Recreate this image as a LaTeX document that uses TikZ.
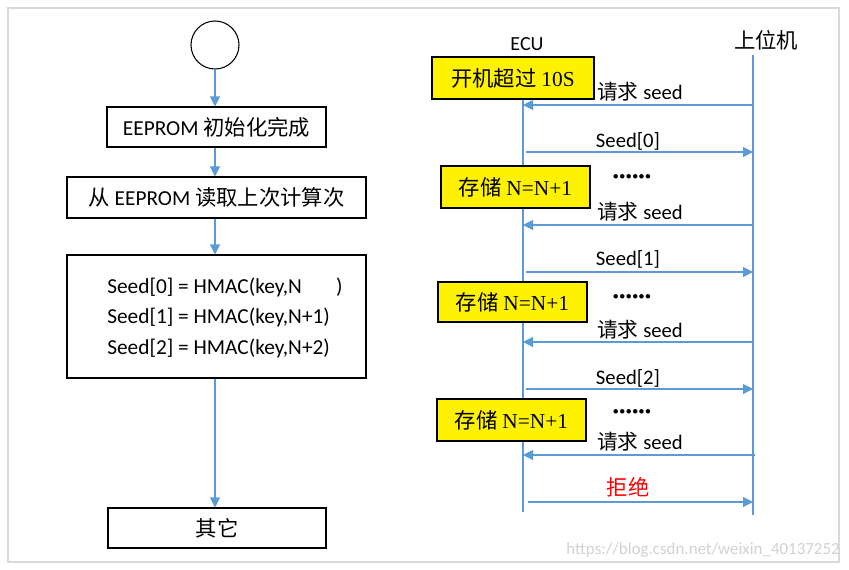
\documentclass[tikz,border=0pt]{standalone}
\usepackage{fontspec}
\setmainfont{Carlito}
\newfontfamily\cjk{Noto Sans CJK SC}
\newfontfamily\tnr{Liberation Serif}
\usetikzlibrary{arrows.meta}
\definecolor{lblue}{RGB}{91,155,213}
\definecolor{frame}{RGB}{217,217,217}
\begin{document}
\begin{tikzpicture}[x=0.75pt,y=-0.75pt,
  box/.style={draw=black,line width=0.8pt,minimum width=#1,minimum height=40*0.75pt,inner sep=0pt,font=\fontsize{16}{18}\selectfont},
  ybox/.style={draw=black,fill=yellow,line width=0.8pt,inner sep=0pt,font=\fontsize{16}{18}\selectfont},
  flow/.style={draw=lblue,line width=0.8pt,-{Triangle[width=7.5pt,length=7.5pt]}},
  msg/.style={draw=lblue,line width=0.8pt,-{Triangle[width=7.5pt,length=7.5pt]}},
  life/.style={draw=lblue,line width=0.8pt},
  lbl/.style={inner sep=0pt,font=\fontsize{15.5}{18}\selectfont},
  dots/.style={inner sep=0pt,font=\bfseries\fontsize{18}{20}\selectfont}]
\useasboundingbox (0,0) rectangle (849,569);
\draw[frame,line width=1.5pt] (8,8) rectangle (839,562);
% left flowchart
\node[draw=black,line width=0.8pt,circle,minimum size=48*0.75pt,inner sep=0pt] (start) at (215,45) {};
\node[box=219*0.75pt] (b1) at (216.5,127) {EEPROM {\cjk 初始化完成}};
\node[box=299*0.75pt,minimum height=41*0.75pt] (b2) at (216.5,197.5) {{\cjk 从} EEPROM {\cjk 读取上次计算次}};
\node[draw=black,line width=0.8pt,minimum width=299*0.75pt,minimum height=123*0.75pt,inner sep=0pt] (b3) at (216.5,316.5) {};
\node[lbl,anchor=west,font=\fontsize{16}{18}\selectfont] (s0) at (107,287) {Seed[0] = HMAC(key,N\hspace{1.6em})};
\node[lbl,anchor=west,font=\fontsize{16}{18}\selectfont] (s1) at (107,317) {Seed[1] = HMAC(key,N+1)};
\node[lbl,anchor=west,font=\fontsize{16}{18}\selectfont] (s2) at (107,348) {Seed[2] = HMAC(key,N+2)};
\node[box=218*0.75pt] (b4) at (217,528) {\cjk 其它};
\draw[flow] (start.south) -- (start.south |- b1.north);
\draw[flow] (b1.south -| start) -- (start |- b2.north);
\draw[flow] (b2.south -| start) -- (start |- b3.north);
\draw[flow] (b3.south -| start) -- (start |- b4.north);
% right sequence diagram
\node[lbl,font=\fontsize{15}{17}\selectfont] (ecu) at (527,44) {ECU};
\node[lbl,font=\cjk\fontsize{16}{18}\selectfont] (host) at (766,40) {上位机};
\coordinate (e0) at (523,57);
\coordinate (e1) at (523,512);
\coordinate (h0) at (753,55);
\coordinate (h1) at (753,515);
\draw[life] (e0) -- (e1);
\draw[life] (h0) -- (h1);
\node[ybox,minimum width=162*0.75pt,minimum height=42*0.75pt] (y0) at (513,78) {{\cjk 开机超过} {\tnr 10S}};
\node[ybox,minimum width=149*0.75pt,minimum height=42*0.75pt] (y1) at (515.5,187) {{\cjk 存储} {\tnr N=N+1}};
\node[ybox,minimum width=149*0.75pt,minimum height=40*0.75pt] (y2) at (512.5,302) {{\cjk 存储} {\tnr N=N+1}};
\node[ybox,minimum width=149*0.75pt,minimum height=42*0.75pt] (y3) at (511.5,420) {{\cjk 存储} {\tnr N=N+1}};
% messages
\coordinate (r0h) at (753,105); \coordinate (r0e) at (523,105);
\coordinate (s0e) at (526,152); \coordinate (s0h) at (753,152);
\coordinate (r1h) at (753,225); \coordinate (r1e) at (523,225);
\coordinate (s1e) at (526,272); \coordinate (s1h) at (753,272);
\coordinate (r2h) at (753,342); \coordinate (r2e) at (523,342);
\coordinate (s2e) at (526,389); \coordinate (s2h) at (753,389);
\coordinate (r3h) at (755,455); \coordinate (r3e) at (523,455);
\coordinate (rje) at (528,502); \coordinate (rjh) at (753,502);
\draw[msg] (r0h) -- (r0e);
\draw[msg] (s0e) -- (s0h);
\draw[msg] (r1h) -- (r1e);
\draw[msg] (s1e) -- (s1h);
\draw[msg] (r2h) -- (r2e);
\draw[msg] (s2e) -- (s2h);
\draw[msg] (r3h) -- (r3e);
\draw[msg] (rje) -- (rjh);
\node[lbl] (l0) at (640,92) {{\cjk 请求} seed};
\node[lbl] (l1) at (628,141) {Seed[0]};
\node[dots] (d1) at (632,179) {······};
\node[lbl] (l2) at (640,212) {{\cjk 请求} seed};
\node[lbl] (l3) at (628,259) {Seed[1]};
\node[dots] (d2) at (632,299) {······};
\node[lbl] (l4) at (640,330) {{\cjk 请求} seed};
\node[lbl] (l5) at (628,378) {Seed[2]};
\node[dots] (d3) at (632,414) {······};
\node[lbl] (l6) at (640,442) {{\cjk 请求} seed};
\node[lbl,text=red,font=\cjk\fontsize{16}{18}\selectfont] (l7) at (628,487) {拒绝};
\node[lbl,anchor=east,text=black!18,font=\fontsize{12.7}{14}\selectfont] (wm) at (840,550) {https://blog.csdn.net/weixin\_40137252};
\end{tikzpicture}
\end{document}
